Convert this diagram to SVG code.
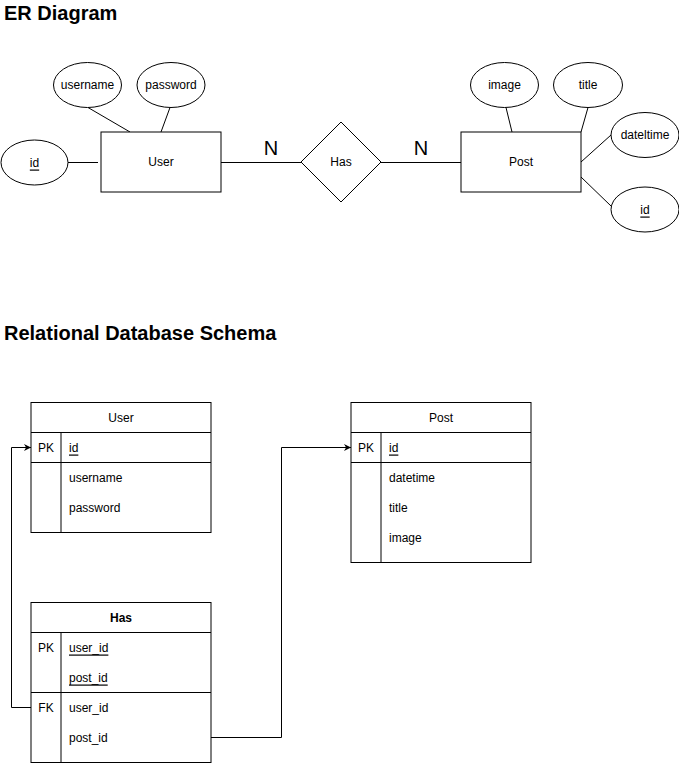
<svg xmlns="http://www.w3.org/2000/svg" width="679" height="763" viewBox="0 0 679 763">
<style>
text{font-family:"Liberation Sans",Arial,sans-serif;font-size:12px;fill:#000}
.c{text-anchor:middle;dominant-baseline:central}
.l{dominant-baseline:central}
.h{font-size:20px;font-weight:bold}
.n{font-size:20px}
.b{font-weight:bold}
.u{text-decoration:underline}
.s{fill:#fff;stroke:#000;stroke-width:1}
.ln{fill:none;stroke:#000;stroke-width:1}
</style>
<defs>
<marker id="arr" viewBox="0 0 10 10" refX="10" refY="5" markerWidth="7" markerHeight="7" markerUnits="userSpaceOnUse" orient="auto">
<path d="M0,0 L10,5 L0,10 L3,5 Z" fill="#000"/>
</marker>
</defs>
<rect width="679" height="763" fill="#fff"/>
<text x="4" y="20" class="h">ER Diagram</text>
<text x="4" y="340" class="h">Relational Database Schema</text>

<g id="connectors">
<line class="ln" x1="68" y1="162.5" x2="98" y2="162.5"/>
<line class="ln" x1="88" y1="107.5" x2="130" y2="132"/>
<line class="ln" x1="170" y1="107.5" x2="161" y2="132"/>
<line class="ln" x1="221" y1="162.5" x2="301" y2="162.5"/>
<line class="ln" x1="381" y1="162.5" x2="461" y2="162.5"/>
<line class="ln" x1="506" y1="107.5" x2="512" y2="132"/>
<line class="ln" x1="588" y1="107.5" x2="581" y2="132"/>
<line class="ln" x1="581" y1="162" x2="611" y2="135"/>
<line class="ln" x1="581" y1="177" x2="611" y2="206"/>
<path class="ln" d="M31,707.5 H11.5 V447.5 H31" marker-end="url(#arr)"/>
<path class="ln" d="M211,737.5 H281.5 V447.5 H351" marker-end="url(#arr)"/>
</g>

<g id="er-id"><ellipse class="s" cx="34.5" cy="162.5" rx="33.5" ry="22.5"/><text x="34.5" y="162.5" class="c u">id</text></g>
<g id="er-username"><ellipse class="s" cx="87.5" cy="85" rx="34" ry="22.5"/><text x="87.5" y="85" class="c">username</text></g>
<g id="er-password"><ellipse class="s" cx="171" cy="85" rx="34" ry="22.5"/><text x="171" y="85" class="c">password</text></g>
<g id="er-user"><rect class="s" x="101" y="132" width="120" height="60"/><text x="161" y="162" class="c">User</text></g>
<g id="er-n1"><text x="271" y="148" class="c n">N</text></g>
<g id="er-has"><polygon class="s" points="341,122 381,162 341,202 301,162"/><text x="341" y="162" class="c">Has</text></g>
<g id="er-n2"><text x="421" y="148" class="c n">N</text></g>
<g id="er-post"><rect class="s" x="461" y="132" width="120" height="60"/><text x="521" y="162" class="c">Post</text></g>
<g id="er-image"><ellipse class="s" cx="504.5" cy="85" rx="34" ry="22.5"/><text x="504.5" y="85" class="c">image</text></g>
<g id="er-title"><ellipse class="s" cx="588" cy="85" rx="34.5" ry="22.5"/><text x="588" y="85" class="c">title</text></g>
<g id="er-dateltime"><ellipse class="s" cx="645" cy="135" rx="34" ry="22.5"/><text x="645" y="135" class="c">dateltime</text></g>
<g id="er-postid"><ellipse class="s" cx="645" cy="209.5" rx="34" ry="22.5"/><text x="645" y="209.5" class="c u">id</text></g>

<g id="tbl-user">
<rect class="s" x="31" y="402.5" width="180" height="130"/>
<line class="ln" x1="31" y1="432.5" x2="211" y2="432.5"/>
<line class="ln" x1="31" y1="462.5" x2="211" y2="462.5"/>
<line class="ln" x1="61" y1="432.5" x2="61" y2="532.5"/>
<text x="121" y="417.5" class="c">User</text>
<text x="46" y="447.5" class="c">PK</text>
<text x="69" y="447.5" class="l u">id</text>
<text x="69" y="477.5" class="l">username</text>
<text x="69" y="507.5" class="l">password</text>
</g>

<g id="tbl-post">
<rect class="s" x="351" y="402.5" width="180" height="160"/>
<line class="ln" x1="351" y1="432.5" x2="531" y2="432.5"/>
<line class="ln" x1="351" y1="462.5" x2="531" y2="462.5"/>
<line class="ln" x1="381" y1="432.5" x2="381" y2="562.5"/>
<text x="441" y="417.5" class="c">Post</text>
<text x="366" y="447.5" class="c">PK</text>
<text x="389" y="447.5" class="l u">id</text>
<text x="389" y="477.5" class="l">datetime</text>
<text x="389" y="507.5" class="l">title</text>
<text x="389" y="537.5" class="l">image</text>
</g>

<g id="tbl-has">
<rect class="s" x="31" y="602.5" width="180" height="160"/>
<line class="ln" x1="31" y1="632.5" x2="211" y2="632.5"/>
<line class="ln" x1="31" y1="692.5" x2="211" y2="692.5"/>
<line class="ln" x1="61" y1="632.5" x2="61" y2="762.5"/>
<text x="121" y="617.5" class="c b">Has</text>
<text x="46" y="647.5" class="c">PK</text>
<text x="69" y="647.5" class="l u">user_id</text>
<text x="69" y="677.5" class="l u">post_id</text>
<text x="46" y="707.5" class="c">FK</text>
<text x="69" y="707.5" class="l">user_id</text>
<text x="69" y="737.5" class="l">post_id</text>
</g>
</svg>
